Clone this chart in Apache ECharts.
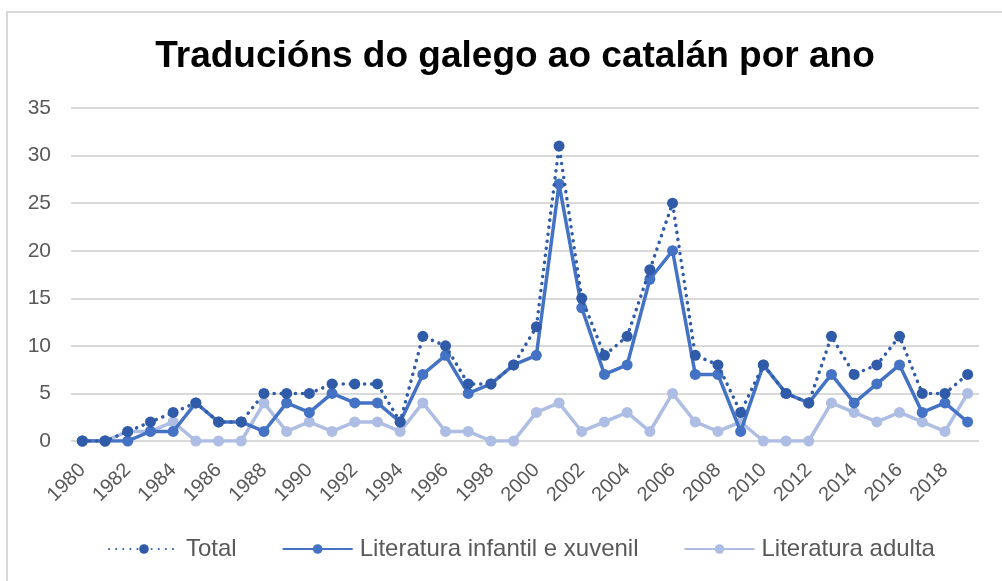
<!DOCTYPE html>
<html>
<head>
<meta charset="utf-8">
<script src="https://cdn.jsdelivr.net/npm/echarts@6/dist/echarts.min.js"></script>
<style>
  html, body { margin: 0; padding: 0; background: #fff; }
  #chart { width: 1002px; height: 581px; }
</style>
</head>
<body>
<div id="chart"></div>
<script>
// anos 1980-2019
const years = [];
for (let y = 1980; y <= 2019; y++) years.push(String(y));

const total = [0, 0, 1, 2, 3, 4, 2, 2, 5, 5, 5, 6, 6, 6, 2, 11, 10, 6, 6, 8,
  12, 31, 15, 9, 11, 18, 25, 9, 8, 3, 8, 5, 4, 11, 7, 8, 11, 5, 5, 7];
const infantil = [0, 0, 0, 1, 1, 4, 2, 2, 1, 4, 3, 5, 4, 4, 2, 7, 9, 5, 6, 8,
  9, 27, 14, 7, 8, 17, 20, 7, 7, 1, 8, 5, 4, 7, 4, 6, 8, 3, 4, 2];
const adulta = [0, 0, 1, 1, 2, 0, 0, 0, 4, 1, 2, 1, 2, 2, 1, 4, 1, 1, 0, 0,
  3, 4, 1, 2, 3, 1, 5, 2, 1, 2, 0, 0, 0, 4, 3, 2, 3, 2, 1, 5];

const font = "Liberation Sans, Arial, sans-serif";

const chart = echarts.init(document.getElementById("chart"));
chart.setOption({
  animation: false,
  title: {
    text: "Traducións do galego ao catalán por ano",
    left: 510,
    textAlign: "center",
    top: 33,
    textStyle: { fontFamily: font, fontSize: 37, fontWeight: "bold", color: "#000" },
  },
  // marco do gráfico
  graphic: [
    {
      type: "rect",
      shape: { x: 7, y: 12, width: 1100, height: 700 },
      style: { fill: "none", stroke: "#d9d9d9", lineWidth: 2 },
      silent: true,
    },
  ],
  grid: { left: 71, right: 23, top: 108, bottom: 140 },
  legend: {
    bottom: 15,
    left: 103,
    itemWidth: 70,
    itemHeight: 12,
    itemGap: 45,
    textStyle: { fontFamily: font, fontSize: 24, color: "#595959", padding: [0, 0, 0, 2] },
    data: ["Total", "Literatura infantil e xuvenil", "Literatura adulta"],
  },
  xAxis: {
    type: "category",
    data: years,
    boundaryGap: true,
    axisLine: { show: false },
    axisTick: { show: false },
    axisLabel: {
      interval: 1,
      rotate: 45,
      margin: 26,
      fontFamily: font,
      fontSize: 20,
      color: "#595959",
    },
  },
  yAxis: {
    type: "value",
    min: 0,
    max: 35,
    interval: 5,
    axisLabel: { fontFamily: font, fontSize: 21, color: "#595959", margin: 20 },
    splitLine: { lineStyle: { color: "#d9d9d9", width: 2 } },
  },
  series: [
    {
      name: "Total",
      type: "line",
      data: total,
      symbol: "circle",
      symbolSize: 11,
      z: 3,
      itemStyle: { color: "#2f5ba8" },
      lineStyle: { color: "#2f5ba8", width: 3.5, type: [0.1, 7], cap: "round" },
    },
    {
      name: "Literatura infantil e xuvenil",
      type: "line",
      data: infantil,
      symbol: "circle",
      symbolSize: 11,
      z: 2,
      itemStyle: { color: "#4472c4" },
      lineStyle: { color: "#4472c4", width: 3.5 },
    },
    {
      name: "Literatura adulta",
      type: "line",
      data: adulta,
      symbol: "circle",
      symbolSize: 11,
      z: 1,
      itemStyle: { color: "#adbde3" },
      lineStyle: { color: "#adbde3", width: 3.5 },
    },
  ],
});
</script>
</body>
</html>
